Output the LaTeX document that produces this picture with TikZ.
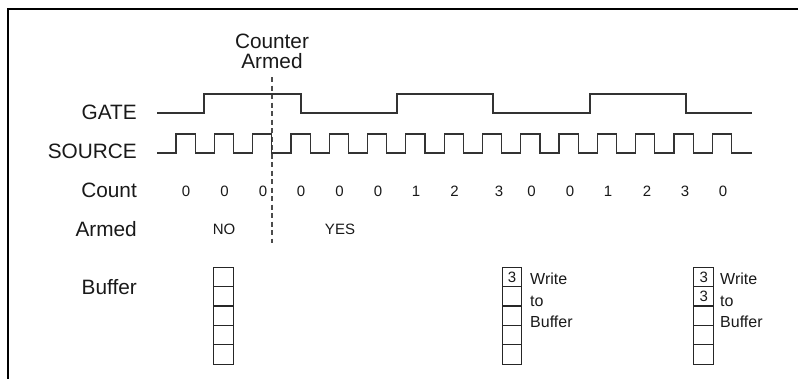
\documentclass[tikz,border=0pt]{standalone}
\usepackage{fontspec}
\setmainfont{Liberation Sans}
\tikzset{
	etichetta/.style={font=\fontsize{20.8}{20}\selectfont, text=black!90, anchor=east, inner sep=0pt},
	valore/.style={font=\fontsize{15}{15}\selectfont, text=black!90, inner sep=0pt},
	onda/.style={color=black!80, line width=1.2pt},
	cella/.style={draw=black!85, line width=1pt, minimum width=19.5pt, minimum height=19.4pt, inner sep=0pt},
	nota/.style={font=\fontsize{16}{21.3}\selectfont, text=black!90, align=left, anchor=north west, inner sep=0pt}
}
\begin{document}
\begin{tikzpicture}[x=1pt, y=-1pt]
		\useasboundingbox (0,0) rectangle (798,379);
		% cornice
		\draw[line width=2.5pt] (8,379) -- (8,9) -- (798,9);
		% nomi dei segnali
		\node[etichetta] (gate) at (137,112) {GATE};
		\node[etichetta] (source) at (137,151) {SOURCE};
		\node[etichetta] (count) at (137,190) {Count};
		\node[etichetta] (armed) at (137,229) {Armed};
		\node[etichetta] (buffer) at (137,287) {Buffer};
		% istante di armamento
		\node[etichetta, anchor=north, align=center] (armato) at (272,34) {Counter\\Armed};
		\coordinate (fine) at (272,243);
		\draw[color=black!70, line width=1.4pt, dash pattern=on 5pt off 3.5pt]
		([yshift=-8pt]armato.south) -- (fine);
		% GATE
		\draw[onda]
		(157,113) --
		(204,113) -- (204,94) --
		(301,94) -- (301,113) --
		(397,113) -- (397,94) --
		(493,94) -- (493,113) --
		(590,113) -- (590,94) --
		(686,94) -- (686,113) --
		(752,113);
		% SOURCE
		\draw[onda] (157,153)
		\foreach \k in {0,...,14} {
			-- ({176+38.3*\k},153) -- ++(0,-19) -- ++(19.2,0) -- ++(0,19)
		} -- (752,153);
		% conteggio
		\foreach \x/\c [count=\i] in {186/0, 224.5/0, 263/0, 301/0, 339.5/0, 378/0, 416/1, 454.5/2,
			499/3, 531.5/0, 570/0, 608/1, 647/2, 685/3, 723/0}
			\node[valore] (c\i) at (\x,191) {\c};
		\node[valore] (no) at (224,229) {NO};
		\node[valore] (yes) at (340,229) {YES};
		% buffer
		\foreach \col/\x in {a/223.5, b/512, c/703.7}
			\foreach \k in {1,...,5}
				\node[cella] (\col\k) at (\x,{257.65+19.35*\k}) {};
		\node[valore] (b1v) at (b1) {3};
		\node[valore] (c1v) at (c1) {3};
		\node[valore] (c2v) at (c2) {3};
		\node[nota] (scrivi1) at (530,273) {Write\\to\\Buffer};
		\node[nota] (scrivi2) at (720,273) {Write\\to\\Buffer};
	\end{tikzpicture}
\end{document}
